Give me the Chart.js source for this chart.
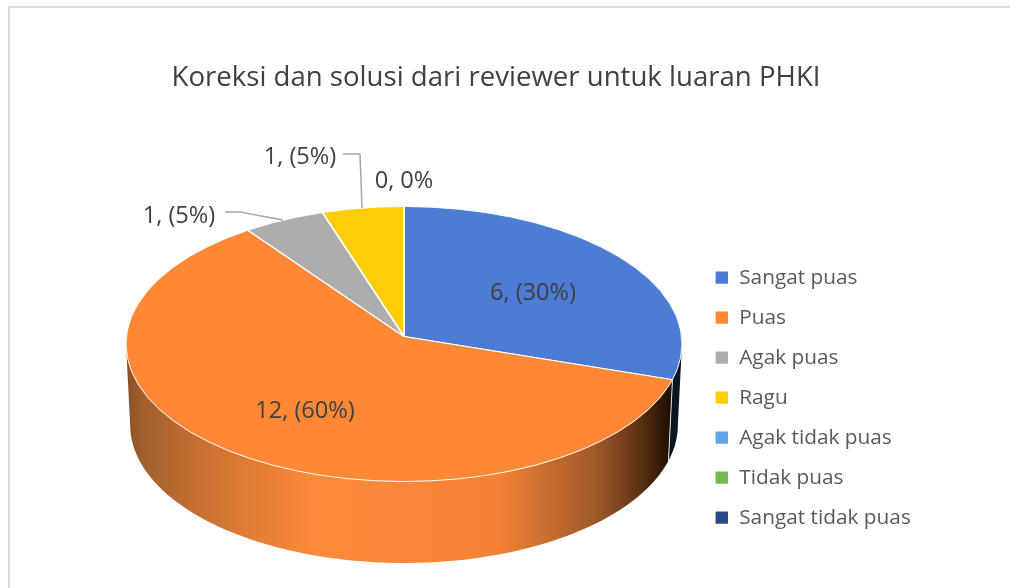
<!DOCTYPE html>
<html><head><meta charset="utf-8">
<style>
html,body{margin:0;padding:0;background:#fff;overflow:hidden}
#wrap{position:relative;width:1010px;height:588px}
#frame{position:absolute;left:8px;top:6px;width:1010px;height:600px;border-left:2px solid #dcdcdc;border-top:2px solid #dcdcdc;box-sizing:border-box}
canvas{position:absolute;left:0;top:0}
</style>
<script src="https://cdn.jsdelivr.net/npm/chart.js@4"></script>
</head><body>
<div id="wrap"><div id="frame"></div><canvas id="c" width="1010" height="588"></canvas></div>
<script>
const titleText = 'Koreksi dan solusi dari reviewer untuk luaran PHKI';
const categories = ['Sangat puas','Puas','Agak puas','Ragu','Agak tidak puas','Tidak puas','Sangat tidak puas'];
const values = [6,12,1,1,0,0,0];
const colors = ['#4C7CD3','#FF8837','#ADADAD','#FFCC08','#5FA5E6','#75B84F','#2A4A86'];
const valueLabels = ['6, (30%)','12, (60%)','1, (5%)','1, (5%)','0, 0%'];

const FONT = '"Open Sans", "Noto Sans", sans-serif';
const view = {ratio:137.5/278, rimDrop:7.5, over:1.12, lowCy:425, lowRx:.985, lowRy:138};
const labelSpots = [[533,293.5],[305,411.5],[179,216.5],[300,157.5],[404,181.5]];
const leaders = [[[225,212],[240,212],[283,220]],[[343,154],[360,154],[362,208]]];
const wallStops = [
  [[0,'#0a1524'],[1,'#0a1524']],
  [[0,'#8a5026'],[.03,'#a0602e'],[.136,'#c87030'],[.228,'#e07d35'],[.35,'#ff8a3a'],[.68,'#f58235'],[.86,'#a05a2a'],[.94,'#603314'],[1,'#1e0d02']],
];

const pie3d = {
  id:'pie3d',
  afterLayout(chart){
    chart.titleBlock.left = 0; chart.titleBlock.right = 992;
    const l = chart.legend;
    l.left = 695.6; l.right = 1000; l.top = 248; l.bottom = 560;
  },
  beforeDatasetDraw(chart,args){
    const ctx = chart.ctx, arcs = args.meta.data, W = view;
    const cx = arcs[0].x, cy = arcs[0].y, R = arcs[0].outerRadius;
    const ey = cy+W.rimDrop, ry = R*W.ratio;
    // where a slice edge, running out from the apex, meets the rim
    const rimParam = a => {
      const ux = Math.cos(a), uy = Math.sin(a)*W.ratio;
      const A = ux*ux/(R*R)+uy*uy/(ry*ry), B = -2*uy*W.rimDrop/(ry*ry), C = W.rimDrop*W.rimDrop/(ry*ry)-1;
      const s = (-B+Math.sqrt(B*B-4*A*C))/(2*A);
      return Math.atan2((s*uy-W.rimDrop)/ry, s*ux/R);
    };
    const norm = t => t < -Math.PI/2 ? t+2*Math.PI : t;
    const top = t => [cx+R*Math.cos(t), ey+ry*Math.sin(t)];
    const low = t => [cx+R*W.lowRx*Math.cos(t), W.lowCy+W.lowRy*Math.sin(t)];
    arcs.forEach((a,i)=>{
      if(!wallStops[i]) return;
      const s = Math.max(norm(rimParam(a.startAngle)),0), e = Math.min(norm(rimParam(a.endAngle)),Math.PI);
      if(e<=s) return;
      const n = 80; ctx.beginPath();
      for(let k=0;k<=n;k++){const p=top(s+(e-s)*k/n); k?ctx.lineTo(p[0],p[1]):ctx.moveTo(p[0],p[1]);}
      for(let k=n;k>=0;k--){const p=low(s+(e-s)*k/n); ctx.lineTo(p[0],p[1]);}
      ctx.closePath();
      const g = ctx.createLinearGradient(cx-R,0,cx+R*.96,0);
      wallStops[i].forEach(st=>g.addColorStop(st[0],st[1]));
      ctx.fillStyle = g; ctx.fill();
      if(s>0){
        ctx.strokeStyle = 'rgba(255,255,255,.85)'; ctx.lineWidth = 1;
        ctx.beginPath(); let p=top(s); ctx.moveTo(p[0],p[1]); p=low(s); ctx.lineTo(p[0],p[1]); ctx.stroke();
      }
    });
    ctx.save();
    ctx.beginPath(); ctx.ellipse(cx,ey,R,ry,0,0,2*Math.PI); ctx.clip();
    ctx.translate(cx,cy); ctx.scale(W.over,W.over*W.ratio); ctx.translate(-cx,-cy);
    args.meta.controller.draw();
    ctx.restore();
    ctx.strokeStyle = 'rgba(255,255,255,.9)'; ctx.lineWidth = 1;
    ctx.beginPath(); ctx.ellipse(cx,ey,R,ry,0,0,2*Math.PI); ctx.stroke();
    return false;
  },
  afterDraw(chart){
    const ctx = chart.ctx;
    ctx.save();
    ctx.strokeStyle = '#A6A6A6'; ctx.lineWidth = 1.5;
    leaders.forEach(l=>{ctx.beginPath();l.forEach((p,i)=>i?ctx.lineTo(p[0],p[1]):ctx.moveTo(p[0],p[1]));ctx.stroke();});
    ctx.fillStyle = '#404040'; ctx.font = '23.6px '+FONT; ctx.textAlign='center'; ctx.textBaseline='middle';
    valueLabels.forEach((t,i)=>ctx.fillText(t,labelSpots[i][0],labelSpots[i][1]));
    ctx.restore();
  }
};

new Chart(document.getElementById('c'),{
  type:'pie',
  data:{labels:categories,datasets:[{data:values,backgroundColor:colors,borderColor:'#fff',borderWidth:1.6,radius:278}]},
  options:{
    responsive:false,animation:false,
    layout:{padding:{left:0,right:202,top:61.5,bottom:9.6}},
    plugins:{
      tooltip:{enabled:false},
      title:{display:true,text:titleText,color:'#404040',padding:0,font:{family:FONT,size:27.6,weight:'normal',lineHeight:1.2}},
      legend:{position:'chartArea',align:'start',labels:{boxWidth:14,boxHeight:14,padding:19.2,color:'#595959',font:{family:FONT,size:20.8}}}
    }
  },
  plugins:[pie3d]
});
</script>
</body></html>
